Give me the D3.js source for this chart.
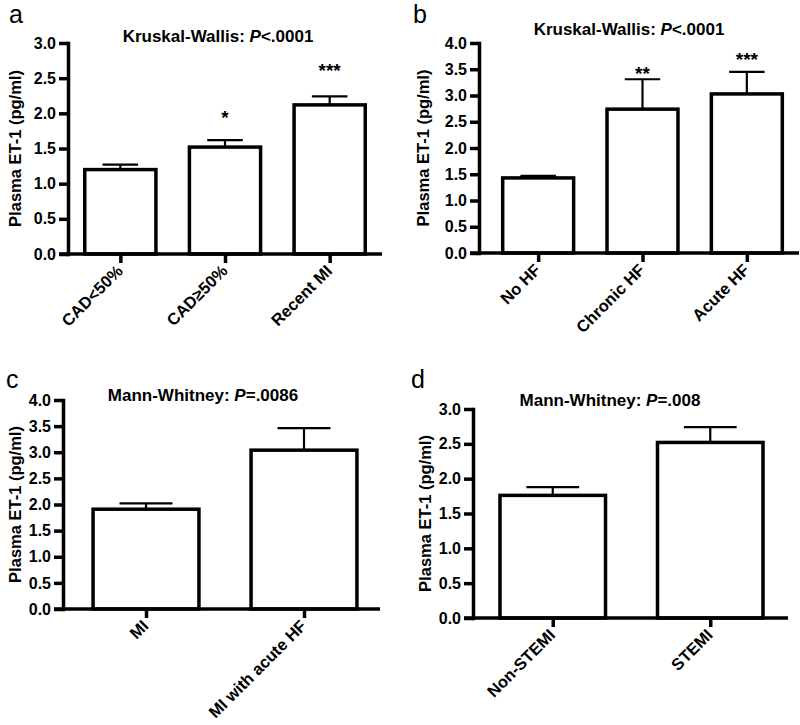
<!DOCTYPE html>
<html>
<head>
<meta charset="utf-8">
<script src="https://cdn.jsdelivr.net/npm/d3@7"></script>
<style>
  html, body { margin: 0; padding: 0; background: #fff; }
  svg { display: block; }
  text { font-family: "Liberation Sans", Arial, Helvetica, sans-serif; fill: #000; }
</style>
</head>
<body>
<svg id="chart" width="800" height="725"></svg>
<script>
// ---------- DATA ----------
const catsA = ["CAD<50%", "CAD\u226550%", "Recent MI"];
const meansA = [1.20, 1.52, 2.12];
const errA = [0.07, 0.10, 0.12];
const starsA = ["", "*", "***"];
const starLevelA = [null, 2.0, 2.67];
const ticksA = [0, 0.5, 1.0, 1.5, 2.0, 2.5, 3.0];

const catsB = ["No HF", "Chronic HF", "Acute HF"];
const meansB = [1.43, 2.74, 3.03];
const errB = [0.04, 0.57, 0.42];
const starsB = ["", "**", "***"];
const starLevelB = [null, 3.50, 3.77];
const ticksB = [0, 0.5, 1.0, 1.5, 2.0, 2.5, 3.0, 3.5, 4.0];

const catsC = ["MI", "MI with acute HF"];
const meansC = [1.91, 3.04];
const errC = [0.11, 0.42];
const starsC = ["", ""];
const starLevelC = [null, null];
const ticksC = [0, 0.5, 1.0, 1.5, 2.0, 2.5, 3.0, 3.5, 4.0];

const catsD = ["Non-STEMI", "STEMI"];
const meansD = [1.76, 2.52];
const errD = [0.12, 0.22];
const starsD = ["", ""];
const starLevelD = [null, null];
const ticksD = [0, 0.5, 1.0, 1.5, 2.0, 2.5, 3.0];

const yLabel = "Plasma ET-1 (pg/ml)";

// ---------- LAYOUT ----------
const panels = [
  { letter: "a", lx: 9, ly: 23, testName: "Kruskal-Wallis: ", pRel: "<.0001", tx: 218, ty: 42,
    cats: catsA, means: meansA, err: errA, stars: starsA, starLevel: starLevelA, ticks: ticksA,
    axisX: 68, y0: 254, yTop: 43, xStart: 68, xEnd: 382, lineEnd: 382, barFrac: 0.68, ylx: 21 },
  { letter: "b", lx: 413, ly: 23, testName: "Kruskal-Wallis: ", pRel: "<.0001", tx: 629, ty: 35,
    cats: catsB, means: meansB, err: errB, stars: starsB, starLevel: starLevelB, ticks: ticksB,
    axisX: 479, y0: 253, yTop: 43, xStart: 486, xEnd: 799, lineEnd: 799, barFrac: 0.68, ylx: 429 },
  { letter: "c", lx: 6, ly: 388, testName: "Mann-Whitney: ", pRel: "=.0086", tx: 203, ty: 401,
    cats: catsC, means: meansC, err: errC, stars: starsC, starLevel: starLevelC, ticks: ticksC,
    axisX: 63, y0: 609, yTop: 400, xStart: 67, xEnd: 383, lineEnd: 380, barFrac: 0.67, ylx: 21 },
  { letter: "d", lx: 411, ly: 388, testName: "Mann-Whitney: ", pRel: "=.008", tx: 610, ty: 406,
    cats: catsD, means: meansD, err: errD, stars: starsD, starLevel: starLevelD, ticks: ticksD,
    axisX: 473, y0: 618, yTop: 409, xStart: 474, xEnd: 789, lineEnd: 788, barFrac: 0.67, ylx: 431 }
];

const svg = d3.select("#chart");
svg.append("rect").attr("width", 800).attr("height", 725).attr("fill", "#fff");

const STROKE = 3.5;
const FONT = '"Liberation Sans", Arial, Helvetica, sans-serif';

panels.forEach(p => {
  const g = svg.append("g");
  const maxV = d3.max(p.ticks);
  const y = d3.scaleLinear().domain([0, maxV]).range([p.y0, p.yTop]);
  const x = d3.scalePoint().domain(p.cats).range([p.xStart, p.xEnd]).padding(0.5);
  const bw = x.step() * p.barFrac;

  // panel letter
  g.append("text").attr("x", p.lx).attr("y", p.ly)
    .style("font-size", "25px").text(p.letter);

  // title
  const t = g.append("text").attr("x", p.tx).attr("y", p.ty)
    .attr("text-anchor", "middle").style("font-size", "17px").style("font-weight", "bold");
  t.append("tspan").text(p.testName);
  t.append("tspan").style("font-style", "italic").text("P");
  t.append("tspan").text(p.pRel);

  // y label
  g.append("text")
    .attr("transform", `translate(${p.ylx},${(p.y0 + p.yTop) / 2}) rotate(-90)`)
    .attr("text-anchor", "middle")
    .style("font-size", "16.5px").style("font-weight", "bold")
    .text(yLabel);

  // bars
  const data = p.cats.map((c, i) => ({ c, v: p.means[i], e: p.err[i], s: p.stars[i], sl: p.starLevel[i] }));
  g.selectAll("rect.bar").data(data).enter().append("rect")
    .attr("class", "bar")
    .attr("x", d => x(d.c) - bw / 2)
    .attr("y", d => y(d.v))
    .attr("width", bw)
    .attr("height", d => y(0) - y(d.v))
    .attr("fill", "#fff").attr("stroke", "#000").attr("stroke-width", STROKE);

  // error bars (upper only)
  g.selectAll("line.err").data(data).enter().append("line")
    .attr("x1", d => x(d.c)).attr("x2", d => x(d.c))
    .attr("y1", d => y(d.v)).attr("y2", d => y(d.v + d.e))
    .attr("stroke", "#000").attr("stroke-width", 2.2);
  g.selectAll("line.cap").data(data).enter().append("line")
    .attr("x1", d => x(d.c) - bw / 4).attr("x2", d => x(d.c) + bw / 4)
    .attr("y1", d => y(d.v + d.e)).attr("y2", d => y(d.v + d.e))
    .attr("stroke", "#000").attr("stroke-width", 2.2);

  // stars
  g.selectAll("text.star").data(data.filter(d => d.s)).enter().append("text")
    .attr("x", d => x(d.c)).attr("y", d => y(d.sl)).attr("dy", "0.58em")
    .attr("text-anchor", "middle").style("font-size", "19px").style("font-weight", "bold")
    .text(d => d.s);

  // y axis
  const ya = g.append("g").attr("transform", `translate(${p.axisX},0)`)
    .call(d3.axisLeft(y).tickValues(p.ticks).tickFormat(d3.format(".1f"))
      .tickSize(9).tickSizeOuter(0).tickPadding(3));
  ya.select(".domain").attr("stroke-width", STROKE).attr("stroke-linecap", "square");
  ya.selectAll(".tick line").attr("stroke-width", STROKE);
  ya.selectAll(".tick text").style("font-size", "16px").style("font-weight", "bold")
    .style("font-family", FONT);

  // x axis
  const xa = g.append("g").attr("transform", `translate(0,${p.y0})`)
    .call(d3.axisBottom(x).tickSize(9).tickSizeOuter(0));
  xa.select(".domain").remove();
  xa.append("line").attr("x1", p.axisX - 9).attr("x2", p.lineEnd)
    .attr("y1", 0).attr("y2", 0).attr("stroke", "#000").attr("stroke-width", STROKE);
  xa.selectAll(".tick line").attr("stroke-width", STROKE);
  xa.selectAll(".tick text")
    .attr("x", null).attr("y", null).attr("dy", null)
    .attr("transform", "translate(3,18) rotate(-45)")
    .style("text-anchor", "end")
    .style("font-size", "16.5px").style("font-weight", "bold")
    .style("font-family", FONT);
});
</script>
</body>
</html>
